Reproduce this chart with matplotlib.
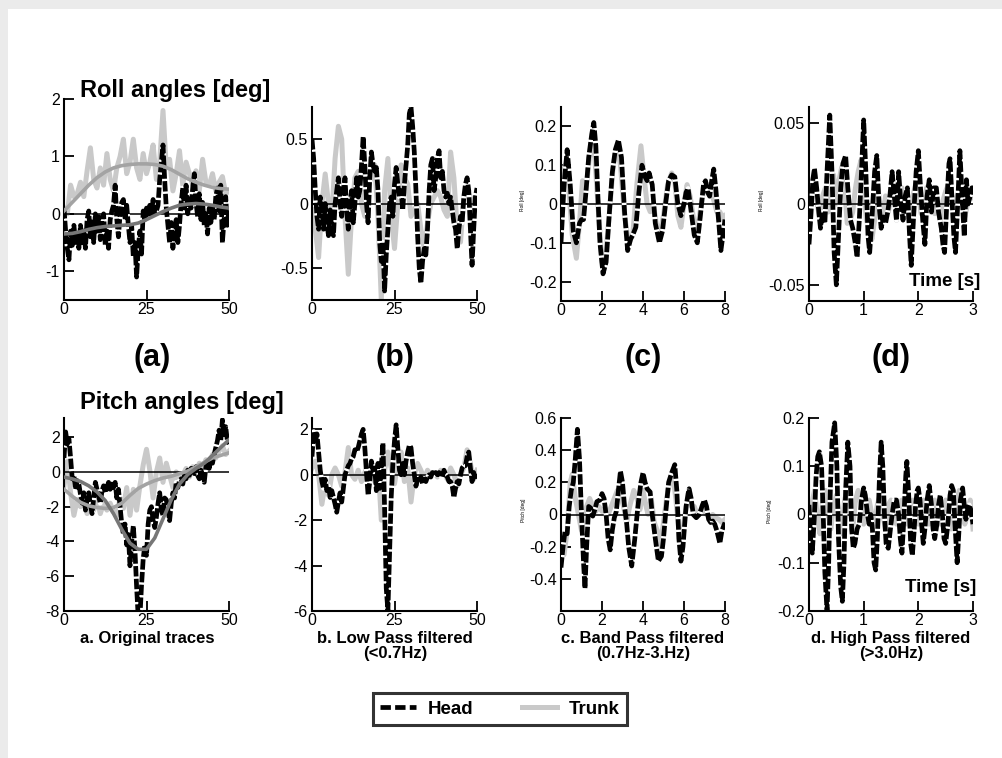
import numpy as np
import matplotlib.pyplot as plt
from matplotlib.patches import Rectangle
from matplotlib.lines import Line2D

plt.rcParams['font.family'] = ['Liberation Sans', 'DejaVu Sans']
plt.rcParams['axes.unicode_minus'] = False

# ---- roll, original traces (0-50) ----
roll_orig_head = [0.1, -0.3, -0.6, -0.8, -0.3, -0.55, -0.2, -0.5, -0.35, -0.6,
                  -0.2, -0.5, -0.3, -0.6, -0.1, 0.05, -0.4, -0.1, -0.5, 0.0,
                  -0.3, -0.05, -0.45, -0.1, 0.0, -0.55, -0.3, -0.6, -0.1, 0.05,
                  0.15, 0.5, -0.1, -0.4, 0.0, 0.2, 0.25, -0.1, 0.15, -0.2,
                  -0.5, -0.2, -0.75, -0.5, -1.1, -0.6, -0.3, -0.7, 0.05, -0.1,
                  0.1, -0.05, 0.15, 0.0, 0.25, 0.0, 0.05, 0.15, 0.6, 0.9,
                  1.2, 0.6, 0.1, -0.2, -0.5, -0.15, -0.6, -0.3, -0.1, -0.5,
                  -0.2, 0.2, 0.45, 0.1, 0.5, 0.0, 0.3, 0.1, 0.45, 0.7,
                  0.2, -0.05, 0.35, -0.1, 0.2, -0.2, 0.0, -0.35, 0.1, -0.15,
                  0.15, -0.1, 0.3, 0.45, 0.05, 0.5, -0.5, -0.1, 0.3, -0.2, 0.1]
roll_orig_trunk = [0.1, 0.0, 0.5, 0.3, 0.35, 0.55, 0.3, 0.75, 1.15, 0.6,
                   0.45, 0.8, 0.5, 1.05, 0.6, 0.4, 0.8, 1.0, 1.3, 0.7,
                   0.9, 1.3, 0.8, 0.6, 1.05, 0.7, 0.9, 1.2, 0.6, 0.9,
                   1.8, 0.8, 0.95, 0.4, 0.7, 1.1, 0.5, 0.9, 0.7, 0.5,
                   0.75, 0.4, 0.95, 0.55, 0.5, 0.7, 0.4, 0.55, 0.65, 0.35, 0.4]
roll_fit_trunk = [0.05, 0.2, 0.35, 0.5, 0.63, 0.73, 0.8, 0.84, 0.86, 0.87, 0.87,
                  0.86, 0.83, 0.77, 0.69, 0.61, 0.55, 0.5, 0.46, 0.44, 0.43]
roll_fit_head = [-0.35, -0.34, -0.31, -0.27, -0.24, -0.22, -0.21, -0.2, -0.19, -0.16, -0.1,
                 -0.03, 0.04, 0.1, 0.15, 0.17, 0.18, 0.17, 0.15, 0.12, 0.1]

# ---- roll, low pass (0-50) ----
roll_low_head = [0.5, 0.35, 0.1, -0.1, -0.2, 0.05, -0.05, -0.2, 0.0, -0.15,
                 -0.25, -0.05, -0.2, -0.25, 0.0, 0.1, 0.2, 0.0, -0.1, 0.1,
                 0.2, -0.05, -0.2, 0.0, 0.1, -0.15, 0.0, 0.2, 0.05, 0.1,
                 0.3, 0.52, 0.3, 0.0, -0.15, 0.2, 0.4, 0.3, 0.25, 0.28,
                 0.1, -0.3, -0.45, -0.3, -0.68, -0.4, -0.2, 0.0, 0.05, -0.1,
                 0.15, 0.28, 0.15, 0.05, 0.1, -0.05, 0.15, 0.3, 0.45, 0.7,
                 0.75, 0.6, 0.4, 0.1, -0.25, -0.5, -0.62, -0.45, -0.35, -0.4,
                 -0.2, 0.1, 0.3, 0.35, 0.1, 0.2, 0.35, 0.41, 0.2, 0.25,
                 0.1, 0.05, 0.08, 0.0, 0.05, -0.05, -0.15, -0.2, -0.35, -0.2,
                 -0.1, -0.15, 0.05, 0.15, 0.2, 0.1, -0.2, -0.48, -0.2, 0.05, 0.12]
roll_low_trunk = [-0.05, -0.2, -0.42, 0.0, 0.23, 0.0, -0.1, 0.35, 0.6, 0.5,
                  -0.1, -0.55, -0.1, 0.2, 0.25, 0.0, -0.1, 0.15, 0.2, 0.3,
                  -0.1, -0.75, 0.1, 0.35, -0.1, -0.35, 0.0, 0.3, 0.2, 0.15,
                  -0.1, -0.05, 0.0, -0.2, -0.35, -0.15, 0.0, 0.05, 0.1, 0.05,
                  -0.05, -0.1, 0.4, 0.2, -0.2, -0.3, 0.05, 0.1, 0.05, -0.05, -0.05]

# ---- roll, band pass (0-8 s) ----
roll_band_head_t = [0, 0.15, 0.3, 0.45, 0.6, 0.75, 0.9, 1.0, 1.1, 1.2,
                    1.35, 1.5, 1.6, 1.7, 1.8, 1.9, 2.05, 2.2, 2.35, 2.5,
                    2.65, 2.8, 2.95, 3.1, 3.25, 3.4, 3.5, 3.65, 3.8, 3.95,
                    4.1, 4.2, 4.3, 4.45, 4.6, 4.8, 4.95, 5.1, 5.25, 5.4,
                    5.55, 5.7, 5.85, 6.0, 6.1, 6.2, 6.3, 6.5, 6.65, 6.8,
                    6.95, 7.05, 7.15, 7.25, 7.35, 7.45, 7.55, 7.7, 7.8, 7.9, 8.0]
roll_band_head = [-0.1, 0.05, 0.14, 0.05, -0.07, -0.1, -0.05, -0.04, -0.04, 0.02,
                  0.12, 0.18, 0.21, 0.15, 0.02, -0.1, -0.18, -0.15, -0.03, 0.08,
                  0.14, 0.165, 0.12, -0.02, -0.12, -0.09, -0.08, -0.06, 0.03, 0.1,
                  0.07, 0.06, 0.08, 0.05, -0.05, -0.1, -0.07, 0.0, 0.06, 0.075,
                  0.07, 0.0, -0.03, 0.0, 0.03, 0.04, 0.0, -0.08, -0.1, -0.03,
                  0.05, 0.06, 0.03, 0.02, 0.06, 0.09, 0.04, -0.05, -0.12, -0.08, -0.04]
roll_band_trunk_t = [0, 0.2, 0.35, 0.55, 0.75, 0.9, 1.05, 1.2, 1.35, 1.5,
                     1.65, 1.8, 2.0, 2.15, 2.35, 2.55, 2.75, 2.9, 3.1, 3.3,
                     3.5, 3.7, 3.9, 4.05, 4.2, 4.35, 4.5, 4.65, 4.8, 5.0,
                     5.2, 5.4, 5.55, 5.7, 5.85, 6.0, 6.15, 6.3, 6.5, 6.65,
                     6.85, 7.0, 7.2, 7.4, 7.6, 7.75, 7.9, 8.0]
roll_band_trunk = [0.04, 0.1, 0.06, -0.08, -0.14, -0.05, 0.06, 0.03, 0.1, 0.17,
                   0.12, 0.0, -0.15, -0.15, -0.03, 0.1, 0.15, 0.1, -0.03, -0.1,
                   -0.08, 0.05, 0.15, 0.07, 0.0, -0.02, 0.0, -0.05, -0.08, -0.03,
                   0.05, 0.08, 0.06, -0.03, -0.06, 0.0, 0.05, 0.02, -0.05, -0.06,
                   0.0, 0.05, 0.05, 0.02, -0.02, -0.02, -0.04, -0.03]

# ---- roll, high pass (0-3 s) ----
roll_high_head_t = [0, 0.03, 0.07, 0.1, 0.14, 0.18, 0.21, 0.25, 0.29, 0.33,
                    0.38, 0.42, 0.46, 0.5, 0.54, 0.58, 0.62, 0.67, 0.71, 0.76,
                    0.8, 0.85, 0.88, 0.92, 0.96, 1.0, 1.04, 1.08, 1.11, 1.15,
                    1.2, 1.24, 1.28, 1.32, 1.36, 1.4, 1.44, 1.48, 1.52, 1.56,
                    1.6, 1.64, 1.68, 1.72, 1.76, 1.8, 1.84, 1.87, 1.91, 1.96,
                    2.0, 2.04, 2.08, 2.12, 2.16, 2.2, 2.24, 2.28, 2.33, 2.37,
                    2.42, 2.45, 2.48, 2.52, 2.56, 2.58, 2.62, 2.65, 2.68, 2.72,
                    2.76, 2.8, 2.84, 2.88, 2.91, 2.95, 2.98, 3.0]
roll_high_head = [-0.025, -0.01, 0.015, 0.022, 0.01, -0.005, -0.015, -0.005, -0.012, 0.02,
                  0.055, 0.02, -0.03, -0.05, -0.02, 0.01, 0.025, 0.03, 0.01, -0.01,
                  -0.015, -0.025, -0.033, -0.01, 0.02, 0.052, 0.02, -0.02, -0.03, -0.01,
                  0.02, 0.03, 0.0, -0.015, -0.008, -0.012, -0.005, 0.005, 0.02, 0.005,
                  -0.01, 0.02, 0.0, -0.01, 0.005, 0.01, -0.02, -0.038, -0.01, 0.02,
                  0.033, 0.01, -0.01, -0.025, 0.005, 0.015, -0.005, 0.01, 0.01, -0.005,
                  -0.015, -0.025, -0.03, 0.0, 0.025, 0.028, 0.0, -0.02, -0.03, 0.0,
                  0.033, 0.005, -0.02, 0.015, 0.0, 0.005, 0.01, 0.01]
roll_high_trunk = [-0.015, 0.01, 0.02, 0.0, -0.01, 0.005, 0.01, -0.005, 0.005, 0.018,
                   0.0, 0.015, 0.023, 0.01, -0.012, -0.01, -0.005, 0.01, 0.02, 0.027,
                   0.01, -0.01, -0.015, -0.022, -0.01, 0.012, 0.0, -0.008, 0.005, -0.005,
                   0.003, 0.008, -0.01, 0.005, 0.01, 0.0, -0.008, -0.004, 0.005, 0.012,
                   0.008, -0.006, -0.004, 0.01, 0.012, 0.004, -0.006, 0.0, -0.01, 0.002,
                   0.008, 0.012, 0.0, -0.006, 0.004, 0.009, 0.002, -0.008, 0.0, 0.008, 0.004]

# ---- pitch, original traces (0-50) ----
pitch_orig_head = [0.8, 2.3, 1.6, 1.9, 0.8, -0.4, -0.2, -1.0, -0.5, -0.7,
                   -1.3, -1.8, -1.2, -2.2, -1.6, -1.2, -1.9, -2.4, -1.5, -0.6,
                   -1.0, -1.4, -1.8, -1.1, -0.8, -1.2, -0.9, -0.6, -1.0, -0.7,
                   -0.9, -0.6, -1.5, -1.0, -2.0, -3.0, -3.6, -3.0, -4.2, -3.6,
                   -5.4, -4.0, -3.1, -4.5, -6.6, -8.4, -8.4, -6.5, -5.0, -4.2,
                   -4.8, -3.0, -2.2, -2.0, -2.8, -3.2, -2.6, -1.8, -1.2, -2.2,
                   -2.5, -1.5, -1.6, -2.2, -2.8, -1.8, -1.2, -1.5, -0.6, -0.9,
                   -0.5, -0.4, -0.7, -0.2, -0.4, 0.1, -0.2, 0.2, 0.2, -0.1,
                   0.3, -0.2, -0.4, 0.1, -0.2, -0.6, 0.3, 0.6, 0.2, 0.8,
                   0.5, 1.0, 1.4, 1.8, 2.4, 1.8, 3.0, 2.0, 2.6, 1.8, 1.6]
pitch_orig_trunk = [-0.8, 0.6, -1.2, -2.5, -1.6, -2.0, -1.7, -2.4, -1.6, -2.2,
                    -1.5, -2.4, -1.8, -2.2, -1.8, -2.3, -2.5, -1.5, -2.1, -0.9,
                    -2.5, -1.0, -2.2, -0.8, 0.4, 1.3, 0.1, -1.5, 0.0, 0.8,
                    -0.6, 0.5, -0.2, -0.9, 0.0, -0.6, -0.2, 0.2, -0.3, 0.3,
                    0.0, 0.5, 0.2, 0.7, 0.4, 1.0, 0.8, 1.2, 1.5, 1.0, 1.2]
pitch_fit_trunk = [-1.0, -1.4, -1.75, -1.95, -2.05, -2.1, -2.05, -1.8, -1.35, -0.95, -0.7,
                   -0.5, -0.35, -0.25, -0.1, 0.05, 0.3, 0.55, 0.8, 0.95, 1.1]
pitch_fit_head = [-0.3, -0.4, -0.55, -0.8, -1.15, -1.65, -2.4, -3.3, -4.1, -4.45, -4.45,
                  -3.8, -2.7, -1.6, -0.7, -0.15, 0.2, 0.5, 0.95, 1.4, 1.85]

# ---- pitch, low pass (0-50) ----
pitch_low_head = [0.8, 1.9, 1.4, 1.8, 1.0, 0.2, -0.3, -0.6, -0.2, -0.7,
                  -0.5, -1.0, -0.7, -1.0, -1.3, -1.65, -1.2, -0.8, -1.2, -0.6,
                  0.0, 0.2, 0.4, 0.5, 0.7, 0.8, 1.1, 1.0, 1.2, 1.5,
                  1.8, 2.0, 1.2, 0.1, -0.9, -0.3, 0.6, 0.2, 0.3, -0.7,
                  0.5, -0.6, 0.4, 1.4, -1.5, -5.0, -6.0, -3.5, -1.0, 0.5,
                  1.5, 2.2, 1.2, 0.2, 0.0, 0.5, 0.0, 0.6, 1.0, 1.3,
                  1.2, 0.5, 0.0, -0.5, -0.2, -0.3, -0.1, -0.4, -0.2, -0.3,
                  -0.1, 0.0, -0.1, 0.1, 0.0, 0.1, 0.0, 0.1, -0.05, -0.1,
                  0.2, 0.0, -0.1, -0.3, -0.3, -0.5, -1.0, -0.6, -0.3, -0.4,
                  0.0, 0.3, 0.4, 0.4, 0.8, 1.0, 0.3, -0.3, 0.1, -0.1, 0.1]
pitch_low_trunk = [0.3, 0.6, 0.0, -1.3, -0.4, -0.9, 0.0, 0.3, 0.0, -0.5,
                   0.1, 1.2, 0.0, -0.2, 0.2, -0.3, 0.1, 0.4, 0.2, -0.3,
                   0.5, -2.0, 0.2, 1.0, 0.3, -0.4, 0.5, 1.0, -0.3, 0.3,
                   -1.2, 0.0, 0.5, 0.2, -0.2, 0.2, 0.0, 0.1, -0.1, 0.2,
                   0.1, -0.2, 0.3, 0.0, -0.5, 0.0, 0.3, 1.1, 0.5, -0.2, 0.2]

# ---- pitch, band pass (0-8 s) ----
pitch_band_head_t = [0, 0.1, 0.2, 0.3, 0.4, 0.5, 0.6, 0.7, 0.8, 0.9,
                     1.0, 1.1, 1.17, 1.25, 1.35, 1.45, 1.55, 1.65, 1.75, 1.9,
                     2.0, 2.1, 2.2, 2.3, 2.4, 2.5, 2.6, 2.7, 2.8, 2.9,
                     3.0, 3.1, 3.2, 3.3, 3.45, 3.6, 3.75, 3.9, 4.0, 4.1,
                     4.2, 4.35, 4.45, 4.6, 4.75, 4.9, 5.0, 5.1, 5.25, 5.4,
                     5.55, 5.65, 5.75, 5.85, 5.95, 6.1, 6.2, 6.25, 6.35, 6.45,
                     6.6, 6.75, 6.9, 7.0, 7.1, 7.2, 7.3, 7.4, 7.5, 7.6,
                     7.75, 7.85, 8.0]
pitch_band_head = [-0.33, -0.2, -0.1, -0.12, 0.05, 0.15, 0.2, 0.35, 0.53, 0.35,
                   0.0, -0.3, -0.46, -0.2, 0.05, 0.04, -0.01, 0.03, 0.08, 0.09,
                   0.13, 0.1, 0.0, -0.15, -0.22, -0.1, -0.02, 0.02, 0.15, 0.27,
                   0.2, 0.05, -0.05, -0.2, -0.32, -0.15, 0.05, 0.2, 0.26, 0.2,
                   0.16, 0.14, 0.0, -0.15, -0.29, -0.26, -0.15, 0.0, 0.2, 0.26,
                   0.31, 0.15, -0.15, -0.29, -0.2, 0.05, 0.13, 0.16, 0.1, 0.0,
                   -0.02, 0.0, 0.06, 0.09, 0.05, -0.03, -0.05, -0.04, -0.06, -0.1,
                   -0.18, -0.1, -0.05]
pitch_band_trunk_t = [0, 0.15, 0.3, 0.45, 0.55, 0.7, 0.85, 1.0, 1.1, 1.25,
                      1.4, 1.55, 1.7, 1.85, 2.0, 2.15, 2.3, 2.45, 2.6, 2.75,
                      2.9, 3.05, 3.2, 3.35, 3.55, 3.7, 3.85, 4.0, 4.15, 4.25,
                      4.4, 4.55, 4.7, 4.85, 5.0, 5.15, 5.3, 5.45, 5.6, 5.75,
                      5.9, 6.05, 6.2, 6.35, 6.5, 6.65, 6.8, 6.95, 7.1, 7.25,
                      7.4, 7.55, 7.7, 7.85, 8.0]
pitch_band_trunk = [-0.15, -0.25, -0.1, 0.2, 0.25, 0.1, 0.0, -0.1, -0.05, 0.05,
                    0.1, 0.05, 0.02, 0.05, 0.02, 0.04, 0.0, 0.05, 0.1, 0.15,
                    0.12, 0.05, -0.05, 0.05, 0.15, 0.1, 0.03, 0.15, 0.05, 0.0,
                    0.1, -0.05, -0.1, -0.2, -0.05, 0.1, 0.2, 0.25, 0.1, -0.1,
                    -0.15, 0.0, 0.1, 0.05, 0.05, 0.0, 0.02, 0.03, 0.0, -0.02,
                    0.0, -0.02, -0.03, -0.05, -0.03]

# ---- pitch, high pass (0-3 s) ----
pitch_high_head_t = [0, 0.03, 0.06, 0.1, 0.13, 0.16, 0.19, 0.23, 0.26, 0.29,
                     0.33, 0.36, 0.39, 0.42, 0.47, 0.51, 0.54, 0.58, 0.61, 0.64,
                     0.67, 0.71, 0.75, 0.78, 0.81, 0.84, 0.88, 0.92, 0.96, 1.0,
                     1.03, 1.07, 1.1, 1.13, 1.16, 1.19, 1.22, 1.25, 1.29, 1.32,
                     1.35, 1.38, 1.41, 1.45, 1.48, 1.52, 1.56, 1.6, 1.64, 1.67,
                     1.7, 1.73, 1.77, 1.79, 1.82, 1.86, 1.89, 1.92, 1.95, 1.98,
                     2.0, 2.03, 2.06, 2.09, 2.12, 2.16, 2.2, 2.24, 2.27, 2.3,
                     2.34, 2.37, 2.4, 2.44, 2.47, 2.5, 2.54, 2.58, 2.61, 2.64,
                     2.67, 2.71, 2.74, 2.77, 2.81, 2.84, 2.87, 2.9, 2.93, 2.96, 3.0]
pitch_high_head = [0.02, -0.05, -0.08, 0.0, 0.08, 0.12, 0.13, 0.1, 0.0, -0.12,
                   -0.2, -0.1, 0.05, 0.15, 0.19, 0.1, -0.05, -0.15, -0.18, -0.1,
                   0.05, 0.15, 0.1, -0.03, -0.07, -0.06, -0.03, -0.02, 0.03, 0.055,
                   0.04, 0.0, -0.02, 0.0, -0.03, -0.1, -0.115, -0.05, 0.08, 0.15,
                   0.1, 0.0, -0.06, -0.07, -0.04, 0.0, 0.03, 0.03, 0.0, -0.05,
                   -0.08, -0.02, 0.08, 0.11, 0.05, -0.06, -0.085, -0.04, 0.02, 0.05,
                   0.055, 0.03, -0.02, -0.06, -0.03, 0.03, 0.06, 0.02, -0.03, -0.05,
                   -0.02, 0.02, 0.04, 0.0, -0.05, -0.06, -0.02, 0.04, 0.06, 0.05,
                   -0.02, -0.1, -0.04, 0.03, 0.055, 0.02, -0.01, 0.01, 0.02, 0.01, -0.02]
pitch_high_trunk = [-0.05, 0.02, 0.05, 0.0, -0.04, 0.03, 0.05, 0.0, -0.03, 0.02,
                    0.04, 0.0, -0.04, 0.03, 0.05, 0.01, -0.03, 0.03, 0.05, 0.02,
                    -0.02, 0.0, 0.03, 0.0, -0.02, 0.02, 0.04, 0.0, -0.03, 0.02,
                    0.03, 0.0, -0.02, 0.02, 0.03, 0.0, -0.02, 0.02, 0.03, 0.0,
                    -0.02, 0.02, 0.03, 0.0, -0.02, 0.02, 0.03, 0.0, -0.02, 0.01,
                    0.03, 0.0, -0.03, 0.0, 0.03, 0.05, 0.02, -0.02, 0.0, 0.03, -0.03]

# time bases of the evenly sampled traces
t_half = np.linspace(0, 50, 101)
t_one = np.linspace(0, 50, 51)
t_fit = np.linspace(0, 50, 21)
t_hp = np.linspace(0, 3, 61)

TRUNK = '#c9c9c9'
TRUNK_FIT = '#a3a3a3'
HEAD_FIT = '#777777'

W, H = 1003, 758
fig = plt.figure(figsize=(W / 100, H / 100), dpi=100, facecolor='#ebebeb')
fig.patches.append(Rectangle((8 / W, 0), 1, 1 - 9 / H, transform=fig.transFigure,
                             facecolor='white', edgecolor='none', zorder=-10))


def px_axes(x0, y0, x1, y1):
    ax = fig.add_axes([x0 / W, 1 - y1 / H, (x1 - x0) / W, (y1 - y0) / H])
    ax.set_facecolor('none')
    return ax


def style(ax, xlim, ylim, xticks, yticks, ylabels):
    ax.set_xlim(xlim)
    ax.set_ylim(ylim)
    for s in ('top', 'right'):
        ax.spines[s].set_visible(False)
    for s in ('left', 'bottom'):
        ax.spines[s].set_linewidth(1.5)
    ax.axhline(0, color='black', lw=1.1, zorder=2.5)
    ax.set_xticks(xticks)
    ax.set_xticklabels([f'{v:g}' for v in xticks])
    ax.set_yticks(yticks)
    ax.set_yticklabels(ylabels)
    ax.tick_params(direction='in', length=7, width=1.3, labelsize=11.5, pad=3)
    ax.tick_params(axis='x', pad=1.5)


def traces(ax, tt, trunk, th, head):
    ax.plot(tt, trunk, color=TRUNK, lw=3.6, solid_joinstyle='round', zorder=2)
    ax.plot(th, head, color='black', lw=3.4, dashes=(2.2, 0.5), gapcolor='white',
            dash_joinstyle='round', zorder=3)


# top row: roll
ax = px_axes(64, 99, 229, 300)
traces(ax, t_one, roll_orig_trunk, t_half, roll_orig_head)
ax.plot(t_fit, roll_fit_trunk, color=TRUNK_FIT, lw=2.6, zorder=4)
ax.plot(t_fit, roll_fit_head, color=HEAD_FIT, lw=2.6, zorder=4)
style(ax, (0, 50), (-1.5, 2), [0, 25, 50], [-1, 0, 1, 2], ['-1', '0', '1', '2'])

ax = px_axes(312, 107, 477, 300)
traces(ax, t_one, roll_low_trunk, t_half, roll_low_head)
style(ax, (0, 50), (-0.75, 0.75), [0, 25, 50], [-0.5, 0, 0.5], ['-0.5', '0', '0.5'])

ax = px_axes(561, 107, 725, 301)
traces(ax, roll_band_trunk_t, roll_band_trunk, roll_band_head_t, roll_band_head)
style(ax, (0, 8), (-0.25, 0.25), [0, 2, 4, 6, 8], [-0.2, -0.1, 0, 0.1, 0.2],
      ['-0.2', '-0.1', '0', '0.1', '0.2'])

ax = px_axes(809, 107, 973, 301)
traces(ax, t_hp, roll_high_trunk, roll_high_head_t, roll_high_head)
style(ax, (0, 3), (-0.06, 0.06), [0, 1, 2, 3], [-0.05, 0, 0.05], ['-0.05', '0', '0.05'])

# bottom row: pitch
ax = px_axes(64, 418, 229, 611)
traces(ax, t_one, pitch_orig_trunk, t_half, pitch_orig_head)
ax.plot(t_fit, pitch_fit_trunk, color=TRUNK_FIT, lw=2.6, zorder=4)
ax.plot(t_fit, pitch_fit_head, color=HEAD_FIT, lw=2.6, zorder=4)
style(ax, (0, 50), (-8, 3.1), [0, 25, 50], [-8, -6, -4, -2, 0, 2],
      ['-8', '-6', '-4', '-2', '0', '2'])

ax = px_axes(312, 418, 477, 611)
traces(ax, t_one, pitch_low_trunk, t_half, pitch_low_head)
style(ax, (0, 50), (-6, 2.5), [0, 25, 50], [-6, -4, -2, 0, 2],
      ['-6', '-4', '-2', '0', '2'])

ax = px_axes(561, 418, 725, 611)
traces(ax, pitch_band_trunk_t, pitch_band_trunk, pitch_band_head_t, pitch_band_head)
style(ax, (0, 8), (-0.6, 0.6), [0, 2, 4, 6, 8], [-0.4, -0.2, 0, 0.2, 0.4, 0.6],
      ['-0.4', '-0.2', '0', '0.2', '0.4', '0.6'])

ax = px_axes(809, 418, 973, 611)
traces(ax, t_hp, pitch_high_trunk, pitch_high_head_t, pitch_high_head)
style(ax, (0, 3), (-0.2, 0.2), [0, 1, 2, 3], [-0.2, -0.1, 0, 0.1, 0.2],
      ['-0.2', '-0.1', '0', '0.1', '0.2'])


def ftext(x, y, s, **kw):
    return fig.text(x / W, 1 - y / H, s, **kw)


ftext(80, 91, 'Roll angles [deg]', fontsize=17, fontweight='bold', va='center')
ftext(80, 402, 'Pitch angles [deg]', fontsize=17, fontweight='bold', va='center')

for xc, lab in zip([152, 395, 643, 891], ['(a)', '(b)', '(c)', '(d)']):
    ftext(xc, 358, lab, fontsize=22, fontweight='bold', ha='center', va='center')

subtitles = ['a. Original traces', 'b. Low Pass filtered\n(<0.7Hz)',
             'c. Band Pass filtered\n(0.7Hz-3.Hz)', 'd. High Pass filtered\n(>3.0Hz)']
for xc, lab in zip([147, 395, 643, 891], subtitles):
    ftext(xc, 631, lab, fontsize=12, fontweight='bold', ha='center', va='top',
          linespacing=1.0)

ftext(980, 282, 'Time [s]', fontsize=13.5, fontweight='bold', ha='right', va='center')
ftext(976, 587, 'Time [s]', fontsize=13.5, fontweight='bold', ha='right', va='center')

for xc, yc, lab in [(523, 201, 'Roll [deg]'), (762, 201, 'Roll [deg]'),
                    (524, 510, 'Pitch [deg]'), (770, 511, 'Pitch [deg]')]:
    ftext(xc, yc, lab, fontsize=3.5, rotation=90, ha='center', va='center')

handles = [Line2D([], [], color='black', lw=3.4, dashes=(2.2, 0.9)),
           Line2D([], [], color=TRUNK, lw=3.6)]
leg = fig.legend(handles, ['Head', 'Trunk'], loc='center', ncol=2,
                 bbox_to_anchor=(500 / W, 1 - 709 / H), frameon=True, fancybox=False,
                 edgecolor='black', prop={'weight': 'bold', 'size': 13.5},
                 handlelength=1.9, handletextpad=0.6, columnspacing=2.6,
                 borderpad=0.4)
leg.get_frame().set_linewidth(2.2)

fig.savefig('out.png', dpi=100, facecolor=fig.get_facecolor())
